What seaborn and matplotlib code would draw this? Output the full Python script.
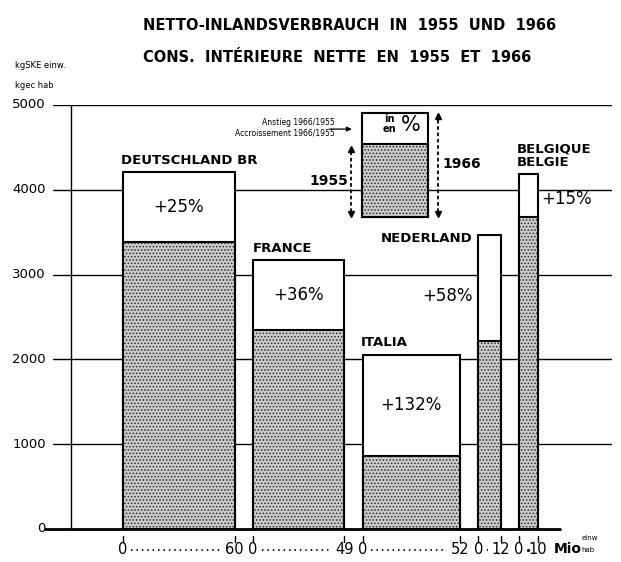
import numpy as np
import matplotlib.pyplot as plt
import seaborn as sns

# Net inland consumption per inhabitant (kg SKE), bar width = population (Mio)
countries = ["DEUTSCHLAND BR", "FRANCE", "ITALIA", "NEDERLAND", "BELGIQUE\nBELGIE"]
population = [60, 49, 52, 12, 10]
cons_1955 = [3385, 2347, 861, 2217, 3679]
cons_1966 = [4210, 3172, 2052, 3467, 4186]
growth = ["+25%", "+36%", "+132%", "+58%", "+15%"]
yticks = [0, 1000, 2000, 3000, 4000, 5000]

sns.set_theme(style="white")
plt.rcParams['font.family'] = ['DejaVu Sans']
plt.rcParams['text.color'] = 'black'
plt.rcParams['hatch.linewidth'] = 0.7

W, H = 621, 562
gap = 10
lefts = np.concatenate([[0], np.cumsum(np.array(population) + gap)[:-1]])

fig = plt.figure(figsize=(W / 100, H / 100), dpi=100)
ax = fig.add_axes([53 / W, 33 / H, 559 / W, 424 / H])
ax.set_xlim(-37.6, 262.9)
ax.set_ylim(0, 5000)
ax.axis('off')

dots = dict(facecolor='#cccccc', edgecolor='#2a2a2a', hatch='.....', linewidth=0)
outline = dict(facecolor='none', edgecolor='black', linewidth=1.5)
plain = dict(facecolor='white', edgecolor='black', linewidth=1.5)


def stipple_bar(x, h, w, bottom=0):
    ax.bar(x, h, width=w, bottom=bottom, align='edge', zorder=4, **dots)
    ax.bar(x, h, width=w, bottom=bottom, align='edge', zorder=4.5, **outline)


# grid, axes
for y in yticks[1:]:
    ax.axhline(y, color='black', lw=1, zorder=1)
for y in yticks:
    ax.text(-41.5, y, str(y), ha='right', va='center', fontsize=9.5, clip_on=False)
ax.plot([-42, 235], [0, 0], color='black', lw=2, clip_on=False, zorder=6)
ax.plot([-28, -28], [0, 5000], color='black', lw=1, zorder=1)

# bars
ax.bar(lefts, cons_1966, width=population, align='edge', zorder=3, **plain)
stipple_bar(lefts, cons_1955, population)

# country labels
lab = dict(fontsize=9.5, fontweight='bold', clip_on=False)
ax.text(lefts[0] - 1, cons_1966[0] + 60, countries[0], va='bottom', **lab)
ax.text(lefts[1], cons_1966[1] + 60, countries[1], va='bottom', **lab)
ax.text(lefts[2] - 1, cons_1966[2] + 70, countries[2], va='bottom', **lab)
ax.text(lefts[3] - 3, 3431, countries[3], ha='right', va='center', **lab)
ax.text(lefts[4] - 1.5, cons_1966[4] + 60, countries[4], va='bottom',
        linespacing=1.0, **lab)

# growth labels
pct = dict(fontsize=12, clip_on=False)
for i in range(3):
    ax.text(lefts[i] + population[i] / 2, (cons_1955[i] + cons_1966[i]) / 2,
            growth[i], ha='center', va='center', **pct)
ax.text(lefts[3] - 3, 2747, growth[3], ha='right', va='center', **pct)
ax.text(lefts[4] + population[4] + 2, 3891, growth[4], ha='left', va='center', **pct)

# x tick labels (population, Mio)
for l, w in zip(lefts, population):
    for xe in (l, l + w):
        ax.plot([xe, xe], [-83, -153], color='black', lw=1, clip_on=False)
    ax.text(l, -236, "0", ha='center', va='center', fontsize=10.5, clip_on=False)
    ax.text(l + w, -236, str(w), ha='center', va='center', fontsize=10.5, clip_on=False)
    x0, x1 = l + 4.5, l + w - 7
    if x1 > x0:
        ax.plot([x0, x1], [-250, -250], color='black', lw=1.3,
                linestyle=(0, (0.8, 2.2)), clip_on=False)
    else:
        ax.plot([l + w / 2 - 0.5], [-250], marker='.', ms=2.5, color='black', clip_on=False)
ax.text(231.5, -236, "Mio", ha='left', va='center', fontsize=10, fontweight='bold', clip_on=False)
ax.text(246.5, -106, "einw", ha='left', va='center', fontsize=5, clip_on=False)
ax.text(246.5, -248, "hab", ha='left', va='center', fontsize=5, clip_on=False)

# key
key_x, key_w = 128.5, 35.5
key_bottom, key_55, key_66 = 3679, 4539, 4905
ax.bar(key_x, key_66 - key_bottom, bottom=key_bottom, width=key_w, align='edge',
       zorder=3, **plain)
stipple_bar(key_x, key_55 - key_bottom, key_w, bottom=key_bottom)
ax.text(143, 4834, "in", ha='center', va='center', fontsize=7, fontweight='bold', zorder=5)
ax.text(143, 4716, "en", ha='center', va='center', fontsize=7, fontweight='bold', zorder=5)
ax.text(154.5, 4770, "%", ha='center', va='center', fontsize=15, zorder=5)
ax.text(114, 4798, "Anstieg 1966/1955", ha='right', va='center', fontsize=5.5)
ax.text(114, 4669, "Accroissement 1966/1955", ha='right', va='center', fontsize=5.5)
ax.annotate("", xy=(124.5, 4716), xytext=(109.5, 4716),
            arrowprops=dict(arrowstyle='-|>', color='black', lw=0.9, mutation_scale=7))
for xa, ya, yb in [(122.6, key_bottom, 4527), (169.4, key_bottom, key_66)]:
    ax.plot([xa, xa], [ya + 60, yb - 60], color='black', lw=1.3, linestyle=(0, (2, 1.5)), zorder=5)
    ax.plot([xa], [yb - 40], marker='^', ms=4.5, color='black', zorder=5)
    ax.plot([xa], [ya + 40], marker='v', ms=4.5, color='black', zorder=5)
ax.text(121, 4103, "1955", ha='right', va='center', fontsize=10, fontweight='bold', zorder=5)
ax.text(172, 4303, "1966", ha='left', va='center', fontsize=10, fontweight='bold', zorder=5)

# titles and unit
fig.text(143 / W, 1 - 26 / H, "NETTO-INLANDSVERBRAUCH  IN  1955  UND  1966",
         ha='left', va='center', fontsize=10.5, fontweight='bold')
fig.text(143 / W, 1 - 58 / H, "CONS.  INTÉRIEURE  NETTE  EN  1955  ET  1966",
         ha='left', va='center', fontsize=10.5, fontweight='bold')
fig.text(15 / W, 1 - 66 / H, "kgSKE einw.", ha='left', va='center', fontsize=6)
fig.text(15 / W, 1 - 85 / H, "kgec hab", ha='left', va='center', fontsize=6)

fig.savefig("out.png", dpi=100, facecolor='white')
